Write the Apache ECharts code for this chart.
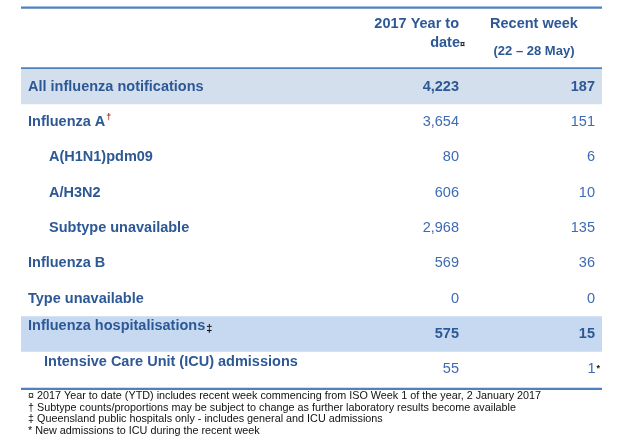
<!DOCTYPE html>
<html>
<head>
<meta charset="utf-8">
<script src="https://cdn.jsdelivr.net/npm/echarts@6/dist/echarts.min.js"></script>
<style>
html,body{margin:0;padding:0;background:#fff;}
#main{width:624px;height:447px;}
</style>
</head>
<body>
<div id="main"></div>
<script>
// table rows
var rowLabels = [
    'All influenza notifications',
    'Influenza A{sup|†}',
    'A(H1N1)pdm09',
    'A/H3N2',
    'Subtype unavailable',
    'Influenza B',
    'Type unavailable',
    'Influenza hospitalisations{mark|‡}',
    'Intensive Care Unit (ICU) admissions'
];
var ytdValues = [4223, 3654, 80, 606, 2968, 569, 0, 575, 55];
var recentValues = [187, 151, 6, 10, 135, 36, 0, 15, 1];
var recentMarks = ['', '', '', '', '', '', '', '', '*'];
var rowLevels = [0, 0, 1, 1, 1, 0, 0, 0, 2];
var boldValueRows = [0, 7];
var bandRows = [0, 7];

var ytdHeader = ['2017 Year to', 'date{mark|¤}'];
var recentHeader = ['Recent week', '(22 – 28 May)'];
var footnotes = [
    '¤ 2017 Year to date (YTD) includes recent week commencing from ISO Week 1 of the year, 2 January 2017',
    '† Subtype counts/proportions may be subject to change as further laboratory results become available',
    '‡ Queensland public hospitals only - includes general and ICU admissions',
    '* New admissions to ICU during the recent week'
];

var FONT = '"Liberation Sans", Arial, sans-serif';
var DARK = '#2D5896';
var MID = '#3D6BB3';
var LINE = '#4F81BD';
var levelIndent = {0: 7, 1: 28, 2: 23};
var labelShift = {7: -8, 8: -7};
var bandColors = {0: '#D4DFEE', 7: '#C6D9F0'};
var GRID_W = 581;
var YTD_RIGHT = 438, RECENT_RIGHT = 574;

function fmt(v){ return v.toLocaleString('en-US'); }

var myChart = echarts.init(document.getElementById('main'));

var tableData = rowLabels.map(function(l, i){ return [0, i]; });

var option = {
    animation: false,
    grid: {left: 21, top: 69, width: GRID_W, height: 318},
    xAxis: {type: 'value', min: 0, max: GRID_W, show: false},
    yAxis: {type: 'category', data: rowLabels, inverse: true, show: false},
    series: [{
        type: 'custom',
        data: tableData,
        encode: {x: 0, y: 1},
        renderItem: function(params, api){
            var row = api.value(1);
            var c = api.coord([0, row]);
            var h = api.size([0, 1])[1];
            var cs = params.coordSys;
            var kids = [];
            if (bandRows.indexOf(row) >= 0) {
                kids.push({type: 'rect', shape: {x: cs.x, y: c[1] - h / 2, width: cs.width, height: h},
                    style: {fill: bandColors[row]}});
            }
            var shift = labelShift[row] || 0;
            kids.push({type: 'text', style: {
                text: rowLabels[row], x: cs.x + levelIndent[rowLevels[row]], y: c[1] + shift,
                fill: DARK, font: 'bold 14.5px ' + FONT, verticalAlign: 'middle', align: 'left',
                rich: {
                    sup: {fill: '#A0342B', font: 'bold 9px ' + FONT, verticalAlign: 'top', padding: [0, 0, 8, 1]},
                    mark: {fill: '#111', font: 'bold 11px ' + FONT, padding: [5, 0, 0, 1]}
                }
            }});
            var bold = boldValueRows.indexOf(row) >= 0;
            var vf = (bold ? 'bold ' : '') + '14.5px ' + FONT;
            kids.push({type: 'text', style: {
                text: fmt(ytdValues[row]), x: api.coord([YTD_RIGHT, row])[0], y: c[1],
                fill: bold ? DARK : MID, font: vf, align: 'right', verticalAlign: 'middle'}});
            var rtxt = fmt(recentValues[row]) + (recentMarks[row] ? '{mark|' + recentMarks[row] + '}' : '');
            kids.push({type: 'text', style: {
                text: rtxt, x: api.coord([RECENT_RIGHT, row])[0] + (recentMarks[row] ? 5 : 0), y: c[1],
                fill: bold ? DARK : MID, font: vf, align: 'right', verticalAlign: 'middle',
                rich: {mark: {fill: '#111', font: 'bold 9px ' + FONT, padding: [0, 0, 2, 1]}}}});
            return {type: 'group', children: kids};
        }
    }],
    graphic: [
        {type: 'rect', shape: {x: 21, y: 6.5, width: GRID_W, height: 2.2}, style: {fill: LINE}},
        {type: 'rect', shape: {x: 21, y: 67.3, width: GRID_W, height: 2.2}, style: {fill: LINE}},
        {type: 'rect', shape: {x: 21, y: 387.8, width: GRID_W, height: 2.2}, style: {fill: LINE}},
        {type: 'text', x: 459, y: 24, style: {text: ytdHeader[0], fill: DARK, font: 'bold 14.5px ' + FONT, align: 'right', verticalAlign: 'middle'}},
        {type: 'text', x: 465, y: 43, style: {text: ytdHeader[1], fill: DARK, font: 'bold 14.5px ' + FONT, align: 'right', verticalAlign: 'middle',
            rich: {mark: {fill: '#111', font: 'bold 9px ' + FONT, padding: [3, 0, 0, 0]}}}},
        {type: 'text', x: 534, y: 24, style: {text: recentHeader[0], fill: DARK, font: 'bold 14.5px ' + FONT, align: 'center', verticalAlign: 'middle'}},
        {type: 'text', x: 534, y: 51, style: {text: recentHeader[1], fill: DARK, font: 'bold 13px ' + FONT, align: 'center', verticalAlign: 'middle'}}
    ].concat(footnotes.map(function(t, i){
        return {type: 'text', x: 28, y: [396, 408, 419.5, 431.5][i],
            style: {text: t, fill: '#111', font: '10.8px ' + FONT, align: 'left', verticalAlign: 'middle'}};
    }))
};
myChart.setOption(option);
</script>
</body>
</html>
